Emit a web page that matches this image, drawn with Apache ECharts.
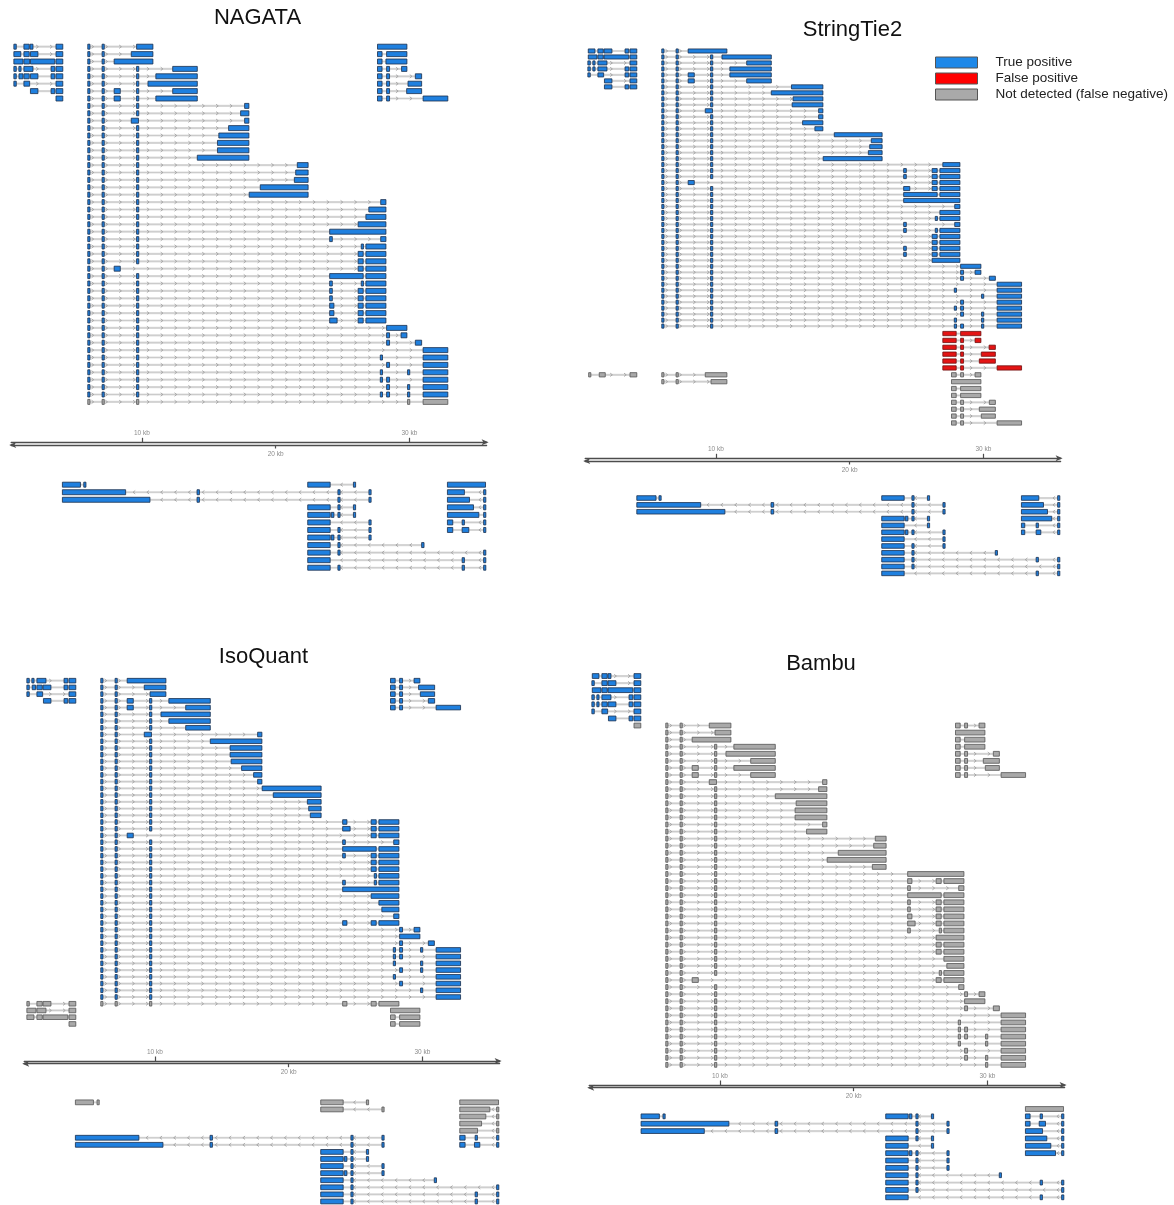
<!DOCTYPE html>
<html>
<head>
<meta charset="utf-8">
<title>Transcript reconstruction: NAGATA, StringTie2, IsoQuant, Bambu</title>
<script src="https://cdn.jsdelivr.net/npm/echarts@6/dist/echarts.min.js"></script>
<style>
  html, body { margin: 0; padding: 0; background: #ffffff; }
  #chart { width: 1174px; height: 1205px; }
</style>
</head>
<body>
<div id="chart"></div>
<script>
// ---------------------------------------------------------------------------
// Data: genomic window (kb), axis ticks, legend categories, panel names
// ---------------------------------------------------------------------------
const KB_MIN = 0.22;
const KB_MAX = 35.78;
const AXIS_TICKS_UPPER = [10, 30];
const AXIS_TICKS_LOWER = [20];
const AXIS_UNIT = 'kb';
const STATUS_LABELS = { T: 'True positive', F: 'False positive', N: 'Not detected (false negative)' };
const STATUS_ORDER = ['T', 'F', 'N'];
const PANEL_TITLES = ['NAGATA', 'StringTie2', 'IsoQuant', 'Bambu'];

// Shared leading exons of the long forward-strand gene (kb)
const E1 = '5.98-6.08';
const E2 = '7.04-7.16';
const E3 = '9.62-9.74';
const HEAD = `${E1} ${E2}`;
const H3 = `${HEAD} ${E3}`;

// Each track row lists the transcripts packed into it.
// "S:a-b c-d ..." -> S = status (T/F/N), then exon intervals in kb.

// NAGATA, forward strand
const nagataForward = [
  ['T:0.42-0.6 1.17-1.57 1.63-1.85 3.57-4.08', `T:${HEAD} 9.6-10.82`, 'T:27.62-29.82'],
  ['T:0.42-0.94 1.17-1.57 1.66-2.22 3.57-4.08', `T:${HEAD} 9.2-10.82`, 'T:27.62-27.96 28.3-29.82'],
  ['T:0.42-1.1 1.17-1.6 1.66-3.48 3.57-4.08', `T:${HEAD} 7.92-10.82`, 'T:27.62-27.96 28.25-29.82'],
  ['T:0.42-0.6 0.8-0.95 1.17-1.85 3.2-3.48 3.57-4.08', `T:${H3} 12.3-14.14`, 'T:27.62-27.96 28.3-28.52 29.42-29.82'],
  ['T:0.42-0.6 0.8-1.1 1.17-1.57 1.66-2.22 3.2-3.48 3.57-4.08', `T:${H3} 11.04-14.14`, 'T:27.62-27.96 28.3-28.52 30.45-30.92'],
  ['T:0.42-0.6 1.17-1.6 3.57-4.08', `T:${H3} 10.45-14.14`, 'T:27.62-27.96 28.3-28.52 29.9-30.92'],
  ['T:1.66-2.22 3.2-3.48 3.57-4.08', `T:${HEAD} 7.92-8.38 ${E3} 12.3-14.14`, 'T:27.62-27.96 28.3-28.52 29.8-30.92'],
  ['T:3.57-4.08', `T:${HEAD} 7.92-8.38 ${E3} 11.04-14.14`, 'T:27.62-27.96 28.3-28.52 31.03-32.88'],
  [`T:${H3} 17.68-18.0`],
  [`T:${H3} 17.38-18.0`],
  [`T:${HEAD} 9.2-9.74 17.68-18.0`],
  [`T:${H3} 16.48-18.0`],
  [`T:${H3} 15.75-18.0`],
  [`T:${H3} 15.65-18.0`],
  [`T:${H3} 15.65-18.0`],
  [`T:${H3} 14.14-18.0`],
  [`T:${H3} 21.62-22.43`],
  [`T:${H3} 21.5-22.43`],
  [`T:${H3} 21.4-22.43`],
  [`T:${H3} 18.85-22.43`],
  [`T:${H3} 18.02-22.43`],
  [`T:${H3} 27.86-28.25`],
  [`T:${H3} 26.97-28.25`],
  [`T:${H3} 26.75-28.25`],
  [`T:${H3} 26.17-28.25`],
  [`T:${H3} 24.04-28.25`],
  [`T:${H3} 24.04-24.24 27.86-28.25`],
  [`T:${H3} 26.42-26.55 26.75-28.25`],
  [`T:${H3} 26.17-26.55 26.75-28.25`],
  [`T:${H3} 26.17-26.55 26.75-28.25`],
  [`T:${HEAD} 7.92-8.38 26.17-26.55 26.75-28.25`],
  [`T:${H3} 24.04-26.55 26.75-28.25`],
  [`T:${H3} 24.04-24.24 26.42-26.55 26.75-28.25`],
  [`T:${H3} 24.04-24.24 26.17-26.55 26.75-28.25`],
  [`T:${H3} 24.04-24.24 26.17-26.55 26.75-28.25`],
  [`T:${H3} 24.04-24.36 26.17-26.55 26.75-28.25`],
  [`T:${H3} 24.04-24.36 26.17-26.55 26.75-28.25`],
  [`T:${H3} 24.04-24.6 26.17-26.55 26.75-28.25`],
  [`T:${H3} 28.3-29.82`],
  [`T:${H3} 28.3-28.52 29.38-29.82`],
  [`T:${H3} 28.3-28.52 30.45-30.92`],
  [`T:${H3} 31.03-32.88`],
  [`T:${H3} 27.86-27.96 31.03-32.88`],
  [`T:${H3} 28.3-28.52 31.03-32.88`],
  [`T:${H3} 27.86-27.96 29.9-30.0 31.03-32.88`],
  [`T:${H3} 27.86-27.96 28.3-28.52 31.03-32.88`],
  [`T:${H3} 28.3-28.52 29.9-30.0 31.03-32.88`],
  [`T:${H3} 27.86-27.96 28.3-28.52 29.9-30.0 31.03-32.88`],
  [`N:${H3} 29.9-30.0 31.03-32.88`]
];

// NAGATA, reverse strand
const nagataReverse = [
  ['T:4.05-5.4 5.68-5.78', 'T:22.4-24.08 25.85-25.95', 'T:32.85-35.7'],
  ['T:4.05-8.78 14.12-14.3 24.68-24.8 27.0-27.12', 'T:32.85-34.12 35.58-35.7'],
  ['T:4.05-10.6 14.12-14.3 24.68-24.8 27.0-27.12', 'T:32.85-34.5 35.58-35.7'],
  ['T:22.4-24.08 24.68-24.8 25.85-25.95', 'T:32.85-34.8 35.58-35.7'],
  ['T:22.4-24.08 24.16-24.36 24.68-24.8 25.85-25.95', 'T:32.85-35.2 35.58-35.7'],
  ['T:22.4-24.08 27.0-27.12', 'T:32.85-33.25 33.95-34.12 35.58-35.7'],
  ['T:22.4-24.08 24.68-24.8 27.0-27.12', 'T:32.85-33.25 33.95-34.45 35.58-35.7'],
  ['T:22.4-24.08 24.16-24.36 24.68-24.8 27.0-27.12'],
  ['T:22.4-24.08 24.68-24.8 30.92-31.1'],
  ['T:22.4-24.08 24.68-24.8 35.58-35.7'],
  ['T:22.4-24.08 33.95-34.12 35.58-35.7'],
  ['T:22.4-24.08 24.68-24.8 33.95-34.12 35.58-35.7']
];

// StringTie2, forward strand (detected transcripts)
const stringtieForward = [
  ['T:0.45-0.95 1.17-1.57 1.63-2.22 3.2-3.48 3.57-4.08', `T:${HEAD} 7.92-10.82`],
  ['T:0.45-1.1 1.17-1.57 1.63-3.48 3.57-4.08', `T:${H3} 10.45-14.14`],
  ['T:0.42-0.6 0.8-0.95 1.17-1.85 3.57-4.08', `T:${H3} 12.3-14.14`],
  ['T:0.42-0.6 0.8-0.95 1.17-1.85 3.2-3.48 3.57-4.08', `T:${H3} 11.04-14.14`],
  ['T:0.42-0.6 1.17-1.6 3.2-3.48 3.57-4.08', `T:${HEAD} 7.92-8.38 ${E3} 11.04-14.14`],
  ['T:1.66-2.22 3.57-4.08', `T:${HEAD} 7.92-8.38 ${E3} 12.3-14.14`],
  ['T:1.66-2.22 3.2-3.48 3.57-4.08', `T:${H3} 15.65-18.0`],
  [`T:${H3} 14.14-18.0`],
  [`T:${H3} 15.77-18.0`],
  [`T:${H3} 15.7-18.0`],
  [`T:${HEAD} 9.2-9.74 17.68-18.0`],
  [`T:${H3} 17.68-18.0`],
  [`T:${H3} 16.48-18.0`],
  [`T:${H3} 17.4-18.0`],
  [`T:${H3} 18.85-22.43`],
  [`T:${H3} 21.62-22.43`],
  [`T:${H3} 21.5-22.43`],
  [`T:${H3} 21.4-22.43`],
  [`T:${H3} 18.02-22.43`],
  [`T:${H3} 26.97-28.25`],
  [`T:${H3} 24.04-24.24 26.17-26.55 26.75-28.25`],
  [`T:${H3} 24.04-24.24 26.17-26.55 26.75-28.25`],
  [`T:${HEAD} 7.92-8.38 26.17-26.55 26.75-28.25`],
  [`T:${H3} 24.04-24.5 26.17-26.55 26.75-28.25`],
  [`T:${H3} 24.04-26.55 26.75-28.25`],
  [`T:${H3} 24.04-28.25`],
  [`T:${H3} 27.86-28.25`],
  [`T:${H3} 26.75-28.25`],
  [`T:${H3} 26.42-26.55 26.75-28.25`],
  [`T:${H3} 24.04-24.24 27.86-28.25`],
  [`T:${H3} 24.04-24.24 26.42-26.55 26.75-28.25`],
  [`T:${H3} 26.17-26.55 26.75-28.25`],
  [`T:${H3} 26.17-26.55 26.75-28.25`],
  [`T:${H3} 24.04-24.24 26.17-26.55 26.75-28.25`],
  [`T:${H3} 24.04-24.24 26.17-26.55 26.75-28.25`],
  [`T:${H3} 26.17-28.25`],
  [`T:${H3} 28.3-29.82`],
  [`T:${H3} 28.3-28.52 29.38-29.82`],
  [`T:${H3} 28.3-28.52 30.45-30.9`],
  [`T:${H3} 31.03-32.86`],
  [`T:${H3} 27.86-27.96 31.03-32.86`],
  [`T:${H3} 29.9-30.0 31.03-32.86`],
  [`T:${H3} 28.3-28.52 31.03-32.86`],
  [`T:${H3} 27.86-27.96 28.3-28.52 31.03-32.86`],
  [`T:${H3} 28.3-28.52 29.9-30.0 31.03-32.86`],
  [`T:${H3} 27.86-27.96 29.9-30.0 31.03-32.86`],
  [`T:${H3} 27.86-27.96 28.3-28.52 29.9-30.0 31.03-32.86`]
];

// StringTie2, forward strand (false positives and missed transcripts)
const stringtieExtra = [
  ['F:26.97-27.97 28.3-29.82'],
  ['F:26.97-27.97 28.3-28.52 29.38-29.82'],
  ['F:26.97-27.97 28.3-28.52 30.43-30.9'],
  ['F:26.97-27.97 28.3-28.52 29.85-30.9'],
  ['F:26.97-27.97 28.3-28.52 29.7-30.9'],
  ['F:26.97-27.97 28.3-28.52 31.03-32.86'],
  ['N:0.5-0.62 1.27-1.72 3.57-4.08', `N:${HEAD} 9.2-10.82`, 'N:27.62-27.97 28.3-28.52 29.38-29.82'],
  [`N:${HEAD} 9.63-10.82`, 'N:27.62-29.82'],
  ['N:27.62-27.97 28.3-29.82'],
  ['N:27.62-27.97 28.3-29.82'],
  ['N:27.62-27.97 28.3-28.52 30.45-30.9'],
  ['N:27.62-27.97 28.3-28.52 29.7-30.9'],
  ['N:27.62-27.97 28.3-28.52 29.85-30.9'],
  ['N:27.62-27.97 28.3-28.52 31.03-32.86']
];

// StringTie2, reverse strand
const stringtieReverse = [
  ['T:4.08-5.52 5.77-5.87', 'T:22.4-24.08 24.68-24.8 25.85-25.95', 'T:32.85-34.15 35.58-35.7'],
  ['T:4.08-8.86 14.12-14.32 24.68-24.8 27.0-27.12', 'T:32.85-34.5 35.58-35.7'],
  ['T:4.08-10.67 14.12-14.32 24.68-24.8 27.0-27.12', 'T:32.85-34.8 35.58-35.7'],
  ['T:22.4-24.08 24.16-24.36 24.68-24.8 25.85-25.95', 'T:32.85-35.12 35.58-35.7'],
  ['T:22.4-24.08 25.85-25.95', 'T:32.85-33.1 33.95-34.12 35.58-35.7'],
  ['T:22.4-24.08 24.16-24.36 24.68-24.8 27.0-27.12', 'T:32.85-33.1 33.95-34.3 35.58-35.7'],
  ['T:22.4-24.08 27.0-27.12'],
  ['T:22.4-24.08 24.68-24.8 27.0-27.12'],
  ['T:22.4-24.08 24.68-24.8 30.9-31.05'],
  ['T:22.4-24.08 24.68-24.8 33.95-34.12 35.58-35.7'],
  ['T:22.4-24.08 24.68-24.8 35.58-35.7'],
  ['T:22.4-24.08 33.95-34.12 35.58-35.7']
];

// IsoQuant, forward strand
const isoquantForward = [
  ['T:0.42-0.6 0.8-0.95 1.17-1.85 3.2-3.48 3.57-4.08', `T:${HEAD} 7.92-10.82`, 'T:27.62-27.97 28.3-28.52 29.38-29.82'],
  ['T:0.42-0.6 0.82-1.07 1.17-1.57 1.63-2.22 3.2-3.48 3.57-4.08', `T:${HEAD} 9.2-10.82`, 'T:27.62-27.97 28.3-28.52 29.72-30.92'],
  ['T:0.42-0.6 1.17-1.6 3.57-4.08', `T:${HEAD} 9.63-10.82`, 'T:27.62-27.97 28.3-28.52 29.85-30.92'],
  ['T:1.66-2.22 3.2-3.48 3.57-4.08', `T:${HEAD} 7.92-8.38 ${E3} 11.04-14.14`, 'T:27.62-27.97 28.3-28.52 30.45-30.92'],
  [`T:${HEAD} 7.92-8.38 ${E3} 12.3-14.14`, 'T:27.62-27.97 28.3-28.52 31.03-32.86'],
  [`T:${H3} 10.45-14.14`],
  [`T:${H3} 11.04-14.14`],
  [`T:${H3} 12.3-14.14`],
  [`T:${HEAD} 9.2-9.74 17.68-18.0`],
  [`T:${H3} 14.14-18.0`],
  [`T:${H3} 15.62-18.0`],
  [`T:${H3} 15.62-18.0`],
  [`T:${H3} 15.7-18.0`],
  [`T:${H3} 16.48-18.0`],
  [`T:${H3} 17.38-18.0`],
  [`T:${H3} 17.68-18.0`],
  [`T:${H3} 18.02-22.43`],
  [`T:${H3} 18.85-22.43`],
  [`T:${H3} 21.4-22.43`],
  [`T:${H3} 21.5-22.43`],
  [`T:${H3} 21.62-22.43`],
  [`T:${H3} 24.04-24.36 26.17-26.55 26.75-28.25`],
  [`T:${H3} 24.04-24.6 26.17-26.55 26.75-28.25`],
  [`T:${HEAD} 7.92-8.38 26.17-26.55 26.75-28.25`],
  [`T:${H3} 24.04-24.24 27.86-28.25`],
  [`T:${H3} 24.04-26.55 26.75-28.25`],
  [`T:${H3} 24.04-24.24 26.17-26.55 26.75-28.25`],
  [`T:${H3} 26.17-26.55 26.75-28.25`],
  [`T:${H3} 26.17-26.55 26.75-28.25`],
  [`T:${H3} 26.42-26.55 26.75-28.25`],
  [`T:${H3} 24.04-24.24 26.42-26.55 26.75-28.25`],
  [`T:${H3} 24.04-28.25`],
  [`T:${H3} 26.17-28.25`],
  [`T:${H3} 26.75-28.25`],
  [`T:${H3} 26.97-28.25`],
  [`T:${H3} 27.86-28.25`],
  [`T:${H3} 24.04-24.36 26.17-26.55 26.75-28.25`],
  [`T:${H3} 28.3-28.52 29.38-29.82`],
  [`T:${H3} 28.3-29.82`],
  [`T:${H3} 28.3-28.52 30.45-30.9`],
  [`T:${H3} 27.86-27.96 28.3-28.52 29.9-30.0 31.03-32.86`],
  [`T:${H3} 27.86-27.96 28.3-28.52 31.03-32.86`],
  [`T:${H3} 27.86-27.96 29.9-30.0 31.03-32.86`],
  [`T:${H3} 28.3-28.52 29.9-30.0 31.03-32.86`],
  [`T:${H3} 27.86-27.96 31.03-32.86`],
  [`T:${H3} 28.3-28.52 31.03-32.86`],
  [`T:${H3} 29.9-30.0 31.03-32.86`],
  [`T:${H3} 31.03-32.86`],
  ['N:0.42-0.6 1.17-1.57 1.63-2.22 3.57-4.08', `N:${H3} 24.04-24.36 26.17-26.55 26.75-28.25`],
  ['N:0.42-1.1 1.17-1.85 3.57-4.08', 'N:27.62-29.82'],
  ['N:0.42-0.95 1.17-1.57 1.63-3.48 3.57-4.08', 'N:27.62-27.97 28.3-29.82'],
  ['N:3.57-4.08', 'N:27.62-27.97 28.3-29.82']
];

// IsoQuant, reverse strand
const isoquantReverse = [
  ['N:4.05-5.4 5.7-5.8', 'N:22.4-24.08 25.85-25.95', 'N:32.8-35.7'],
  ['N:22.4-24.08 27.0-27.12', 'N:32.8-35.05 35.58-35.7'],
  ['N:32.8-34.75 35.58-35.7'],
  ['N:32.8-34.43 35.58-35.7'],
  ['N:32.8-34.13 35.58-35.7'],
  ['T:4.05-8.8 14.12-14.3 24.68-24.8 27.0-27.12', 'T:32.8-33.2 33.95-34.12 35.58-35.7'],
  ['T:4.05-10.6 14.12-14.3 24.68-24.8 27.0-27.12', 'T:32.8-33.2 33.9-34.3 35.58-35.7'],
  ['T:22.4-24.08 24.68-24.8 25.85-25.95'],
  ['T:22.4-24.08 24.16-24.36 24.68-24.8 25.85-25.95'],
  ['T:22.4-24.08 24.68-24.8 27.0-27.12'],
  ['T:22.4-24.08 24.16-24.36 24.68-24.8 27.0-27.12'],
  ['T:22.4-24.08 24.68-24.8 30.9-31.05'],
  ['T:22.4-24.08 24.68-24.8 35.58-35.7'],
  ['T:22.4-24.08 24.68-24.8 33.95-34.12 35.58-35.7'],
  ['T:22.4-24.08 24.68-24.8 33.95-34.12 35.58-35.7']
];

// Bambu, forward strand
const bambuForward = [
  ['T:0.45-0.95 1.17-1.57 1.63-1.85 3.57-4.08'],
  ['T:0.42-0.6 1.17-1.57 1.63-2.22 3.57-4.08'],
  ['T:0.45-1.1 1.17-1.57 1.63-3.48 3.57-4.08'],
  ['T:0.42-0.6 0.8-0.95 1.17-1.85 3.2-3.48 3.57-4.08'],
  ['T:0.42-0.6 0.8-0.95 1.17-1.57 1.63-2.22 3.2-3.48 3.57-4.08'],
  ['T:0.42-0.6 1.17-1.6 3.57-4.08'],
  ['T:1.66-2.22 3.2-3.48 3.57-4.08'],
  ['N:3.57-4.08', `N:${HEAD} 9.2-10.82`, 'N:27.62-27.97 28.3-28.52 29.38-29.82'],
  [`N:${HEAD} 9.63-10.82`, 'N:27.62-29.82'],
  [`N:${HEAD} 7.92-10.82`, 'N:27.62-27.97 28.3-29.82'],
  [`N:${H3} 11.04-14.14`, 'N:27.62-27.97 28.3-29.82'],
  [`N:${H3} 10.45-14.14`, 'N:27.62-27.97 28.3-28.52 30.45-30.9'],
  [`N:${H3} 12.3-14.14`, 'N:27.62-27.97 28.3-28.52 29.7-30.9'],
  [`N:${HEAD} 7.92-8.38 ${E3} 11.04-14.14`, 'N:27.62-27.97 28.3-28.52 29.85-30.9'],
  [`N:${HEAD} 7.92-8.38 ${E3} 12.3-14.14`, 'N:27.62-27.97 28.3-28.52 31.03-32.86'],
  [`N:${HEAD} 9.2-9.74 17.68-18.0`],
  [`N:${H3} 17.38-18.0`],
  [`N:${H3} 14.14-18.0`],
  [`N:${H3} 15.7-18.0`],
  [`N:${H3} 15.62-18.0`],
  [`N:${H3} 15.62-18.0`],
  [`N:${H3} 17.68-18.0`],
  [`N:${H3} 16.48-18.0`],
  [`N:${H3} 21.62-22.43`],
  [`N:${H3} 21.5-22.43`],
  [`N:${H3} 18.85-22.43`],
  [`N:${H3} 18.02-22.43`],
  [`N:${H3} 21.4-22.43`],
  [`N:${H3} 24.04-28.25`],
  [`N:${H3} 24.04-24.36 26.17-26.55 26.75-28.25`],
  [`N:${H3} 24.04-24.24 27.86-28.25`],
  [`N:${H3} 24.04-26.55 26.75-28.25`],
  [`N:${H3} 24.04-24.24 26.17-26.55 26.75-28.25`],
  [`N:${H3} 24.04-24.24 26.17-26.55 26.75-28.25`],
  [`N:${H3} 24.04-24.36 26.17-26.55 26.75-28.25`],
  [`N:${H3} 24.04-24.6 26.17-26.55 26.75-28.25`],
  [`N:${H3} 24.04-24.24 26.42-26.55 26.75-28.25`],
  [`N:${H3} 26.17-28.25`],
  [`N:${H3} 26.17-26.55 26.75-28.25`],
  [`N:${H3} 26.17-26.55 26.75-28.25`],
  [`N:${H3} 26.75-28.25`],
  [`N:${H3} 26.97-28.25`],
  [`N:${H3} 26.42-26.55 26.75-28.25`],
  [`N:${HEAD} 7.92-8.38 26.17-26.55 26.75-28.25`],
  [`N:${H3} 27.86-28.25`],
  [`N:${H3} 28.3-28.52 29.38-29.82`],
  [`N:${H3} 28.3-29.82`],
  [`N:${H3} 28.3-28.52 30.45-30.9`],
  [`N:${H3} 31.03-32.86`],
  [`N:${H3} 27.86-27.96 31.03-32.86`],
  [`N:${H3} 27.86-27.96 28.3-28.52 31.03-32.86`],
  [`N:${H3} 27.86-27.96 28.3-28.52 29.9-30.0 31.03-32.86`],
  [`N:${H3} 27.86-27.96 29.9-30.0 31.03-32.86`],
  [`N:${H3} 28.3-28.52 31.03-32.86`],
  [`N:${H3} 28.3-28.52 29.9-30.0 31.03-32.86`],
  [`N:${H3} 29.9-30.0 31.03-32.86`]
];

// Bambu, reverse strand
const bambuReverse = [
  ['N:32.85-35.7'],
  ['T:4.1-5.47 5.77-5.87', 'T:22.4-24.08 24.16-24.36 24.68-24.8 25.85-25.95', 'T:32.85-33.2 33.95-34.12 35.58-35.7'],
  ['T:4.1-10.67 14.12-14.32 24.68-24.8 27.0-27.12', 'T:32.85-33.2 33.88-34.35 35.58-35.7'],
  ['T:4.1-8.83 14.12-14.32 24.68-24.8 27.0-27.12', 'T:32.85-34.13 35.58-35.7'],
  ['T:22.4-24.08 24.68-24.8 25.85-25.95', 'T:32.85-34.45 35.58-35.7'],
  ['T:22.4-24.08 25.85-25.95', 'T:32.85-34.75 35.58-35.7'],
  ['T:22.4-24.08 24.16-24.36 24.68-24.8 27.0-27.12', 'T:32.85-35.1 35.58-35.7'],
  ['T:22.4-24.08 24.68-24.8 27.0-27.12'],
  ['T:22.4-24.08 24.68-24.8 27.0-27.12'],
  ['T:22.4-24.08 24.68-24.8 30.9-31.05'],
  ['T:22.4-24.08 24.68-24.8 33.95-34.12 35.58-35.7'],
  ['T:22.4-24.08 24.68-24.8 35.58-35.7'],
  ['T:22.4-24.08 33.95-34.12 35.58-35.7']
];

// ---------------------------------------------------------------------------
// Layout and styling
// ---------------------------------------------------------------------------
const FONT = "'Liberation Sans', Arial, Helvetica, sans-serif";
const TRACK_WIDTH = 475.4;
const STATUS_STYLE = {
  T: { fill: '#1f80df', stroke: '#1b2f4d' },
  F: { fill: '#e41414', stroke: '#6e1010' },
  N: { fill: '#a9a9a9', stroke: '#555555' }
};
const LEGEND_STYLE = {
  T: { color: '#1e88e8', borderColor: '#555', borderWidth: 1 },
  F: { color: '#ff0000', borderColor: '#555', borderWidth: 1 },
  N: { color: '#a9a9a9', borderColor: '#555', borderWidth: 1 }
};
const CHEVRON_ORIGIN = 0.1;   // kb
const CHEVRON_STEP = 1.035;   // kb

const panels = [
  { title: PANEL_TITLES[0], titleX: 257.5, titleY: 18, left: 11.2, axisTop: 442.3,
    blocks: [
      { rows: nagataForward, strand: 1, top: 43.0, height: 362.6, exonH: 5.0 },
      { rows: nagataReverse, strand: -1, top: 480.9, height: 90.6, exonH: 5.0 }
    ] },
  { title: PANEL_TITLES[1], titleX: 852.5, titleY: 30, left: 585.2, axisTop: 458.3,
    blocks: [
      { rows: stringtieForward, strand: 1, top: 48.0, height: 281.1, exonH: 4.1 },
      { rows: stringtieExtra, strand: 1, top: 330.1, height: 96.3, exonH: 4.3 },
      { rows: stringtieReverse, strand: -1, top: 494.6, height: 82.2, exonH: 4.6 }
    ] },
  { title: PANEL_TITLES[2], titleX: 263.5, titleY: 657, left: 24.2, axisTop: 1061,
    blocks: [
      { rows: isoquantForward, strand: 1, top: 677.3, height: 350.0, exonH: 4.6 },
      { rows: isoquantReverse, strand: -1, top: 1098.8, height: 106.5, exonH: 4.8 }
    ] },
  { title: PANEL_TITLES[3], titleX: 821, titleY: 664, left: 589.2, axisTop: 1085,
    blocks: [
      { rows: bambuForward, strand: 1, top: 672.5, height: 395.9, exonH: 4.8 },
      { rows: bambuReverse, strand: -1, top: 1105.3, height: 95.7, exonH: 4.8 }
    ] }
];

// ---------------------------------------------------------------------------
// Parsing
// ---------------------------------------------------------------------------
function parseRows(rows) {
  const list = [];
  rows.forEach((row, r) => {
    row.forEach(entry => {
      const sep = entry.indexOf(':');
      const status = entry.slice(0, sep);
      const exons = entry.slice(sep + 1).trim().split(/\s+/).map(t => t.split('-').map(Number));
      list.push({ row: r, status, exons });
    });
  });
  return list;
}

// ---------------------------------------------------------------------------
// Transcript glyph: intron line, strand chevrons, exon boxes
// ---------------------------------------------------------------------------
function makeRenderer(txList, strand, exonH) {
  return function (params, api) {
    const tx = txList[api.value(3)];
    if (!tx) return null;
    const toPx = (kb, row) => api.coord([kb, row]);

    const exons = tx.exons;
    const pStart = toPx(exons[0][0], tx.row);
    const pEnd = toPx(exons[exons.length - 1][1], tx.row);
    const yc = pStart[1];
    const style = STATUS_STYLE[tx.status];
    const children = [];

    children.push({ type: 'line', shape: { x1: pStart[0], y1: yc, x2: pEnd[0], y2: yc },
      style: { stroke: '#dedede', lineWidth: 2.2 } });
    children.push({ type: 'line', shape: { x1: pStart[0], y1: yc, x2: pEnd[0], y2: yc },
      style: { stroke: '#bdbdbd', lineWidth: 0.6 } });

    for (let i = 0; i < exons.length - 1; i++) {
      const a = exons[i][1] + 0.14;
      const b = exons[i + 1][0] - 0.14;
      let n = Math.ceil((a - CHEVRON_ORIGIN) / CHEVRON_STEP);
      for (; CHEVRON_ORIGIN + n * CHEVRON_STEP < b; n++) {
        const kb = CHEVRON_ORIGIN + n * CHEVRON_STEP;
        const x = toPx(kb, tx.row)[0];
        const d = strand > 0 ? 1 : -1;
        children.push({ type: 'polyline',
          shape: { points: [[x - d * 1.1, yc - 1.7], [x + d * 1.1, yc], [x - d * 1.1, yc + 1.7]] },
          style: { stroke: '#9a9a9a', lineWidth: 0.8, fill: null } });
      }
    }

    exons.forEach(ex => {
      let xa = toPx(ex[0], tx.row)[0];
      const xb = toPx(ex[1], tx.row)[0];
      let w = xb - xa;
      if (w < 2.2) { xa = (xa + xb) / 2 - 1.1; w = 2.2; }
      children.push({ type: 'rect',
        shape: { x: xa, y: yc - exonH / 2, width: w, height: exonH },
        style: { fill: style.fill, stroke: style.stroke, lineWidth: 0.8 } });
    });

    return { type: 'group', children };
  };
}

// ---------------------------------------------------------------------------
// Build the option
// ---------------------------------------------------------------------------
const grid = [], xAxis = [], yAxis = [], series = [], graphic = [];

panels.forEach(panel => {
  graphic.push({ type: 'text', x: panel.titleX, y: panel.titleY,
    style: { text: panel.title, font: `22px ${FONT}`, fill: '#111', textAlign: 'center', textVerticalAlign: 'middle' } });

  panel.blocks.forEach(block => {
    const gi = grid.length;
    const xi = xAxis.length;
    const yi = yAxis.length;
    grid.push({ left: panel.left, top: block.top, width: TRACK_WIDTH, height: block.height, containLabel: false });
    xAxis.push({ gridIndex: gi, type: 'value', min: KB_MIN, max: KB_MAX, show: false });
    yAxis.push({ gridIndex: gi, type: 'value', min: -0.5, max: block.rows.length - 0.5, inverse: true, show: false });

    const txList = parseRows(block.rows);
    STATUS_ORDER.forEach(st => {
      const data = [];
      txList.forEach((tx, i) => {
        if (tx.status === st) data.push([tx.exons[0][0], tx.row, tx.exons[tx.exons.length - 1][1], i]);
      });
      if (!data.length) return;
      series.push({
        type: 'custom', name: STATUS_LABELS[st], coordinateSystem: 'cartesian2d',
        xAxisIndex: xi, yAxisIndex: yi,
        itemStyle: { color: LEGEND_STYLE[st].color },
        encode: { x: [0, 2], y: 1 },
        renderItem: makeRenderer(txList, block.strand, block.exonH),
        data, silent: true, animation: false
      });
    });
  });

  // genomic coordinate axis: double line, upper ticks labelled above, lower tick below
  const gi = grid.length;
  grid.push({ left: panel.left, top: panel.axisTop, width: TRACK_WIDTH, height: 2.7 });
  yAxis.push({ gridIndex: gi, type: 'value', show: false });
  const lineStyle = { color: '#4d4d4d', width: 1.3 };
  const labelStyle = { fontSize: 6.5, color: '#8c8c8c', fontFamily: FONT };
  xAxis.push({ gridIndex: gi, type: 'value', min: KB_MIN, max: KB_MAX, position: 'top',
    axisLine: { show: true, onZero: false, lineStyle, symbol: ['none', 'arrow'], symbolSize: [4.5, 7], symbolOffset: [0, 2] },
    axisTick: { show: true, customValues: AXIS_TICKS_UPPER, length: 4.5, lineStyle: { color: '#4d4d4d', width: 1.2 } },
    axisLabel: { show: true, customValues: AXIS_TICKS_UPPER, formatter: v => `${v} ${AXIS_UNIT}`, margin: 5.5, ...labelStyle },
    splitLine: { show: false } });
  xAxis.push({ gridIndex: gi, type: 'value', min: KB_MIN, max: KB_MAX, position: 'bottom',
    axisLine: { show: true, onZero: false, lineStyle, symbol: ['arrow', 'none'], symbolSize: [4.5, 7], symbolOffset: [-2, 0] },
    axisTick: { show: true, customValues: AXIS_TICKS_LOWER, length: 3.5, lineStyle: { color: '#4d4d4d', width: 1.2 } },
    axisLabel: { show: true, customValues: AXIS_TICKS_LOWER, formatter: v => `${v} ${AXIS_UNIT}`, margin: 5.5, ...labelStyle },
    splitLine: { show: false } });
});

const option = {
  animation: false,
  backgroundColor: '#ffffff',
  textStyle: { fontFamily: FONT },
  grid, xAxis, yAxis, series, graphic,
  legend: {
    orient: 'vertical', left: 935, top: 55.5, padding: 0,
    itemWidth: 42, itemHeight: 11, itemGap: 2, icon: 'rect',
    selectedMode: false,
    textStyle: { fontSize: 13.5, color: '#222', fontFamily: FONT, padding: [0, 0, 0, 13] },
    data: STATUS_ORDER.map(st => ({ name: STATUS_LABELS[st], itemStyle: LEGEND_STYLE[st] }))
  }
};

const chart = echarts.init(document.getElementById('chart'), null, { renderer: 'canvas' });
chart.setOption(option);
</script>
</body>
</html>
